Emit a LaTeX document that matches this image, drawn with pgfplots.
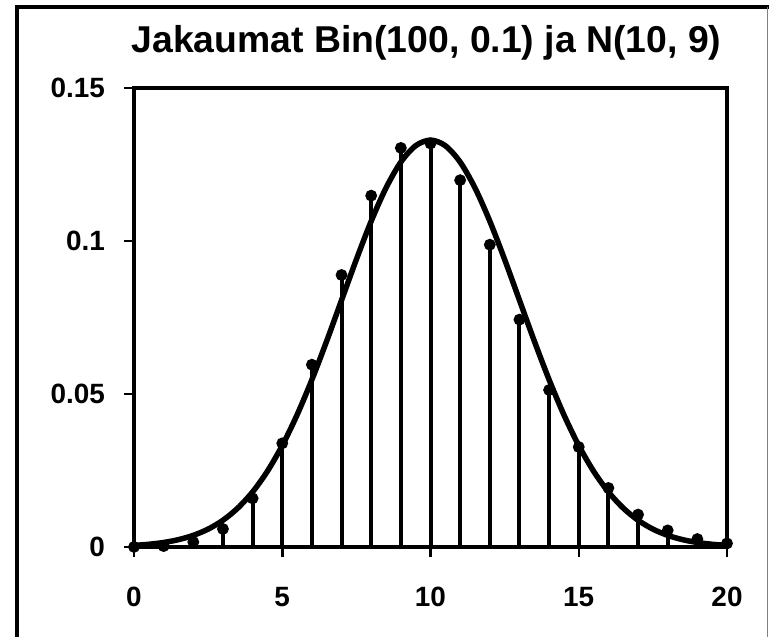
\documentclass[border=0pt]{standalone}
\usepackage{pgfplots}
\pgfplotsset{compat=1.18}
\usepackage{fontspec}
\setmainfont{Liberation Sans}

% Bin(100, 0.1) probabilities, k = 0..20
\pgfplotstableread{
k p
0 0.0000266
1 0.000295
2 0.001623
3 0.005892
4 0.015894
5 0.033875
6 0.059579
7 0.088895
8 0.114823
9 0.130416
10 0.131865
11 0.119878
12 0.098788
13 0.074302
14 0.051304
15 0.032682
16 0.019291
17 0.010591
18 0.005427
19 0.002602
20 0.001171
}\binomdata

% N(10, 9) density, read at half steps
\pgfplotstableread{
x f
0 0.000514
0.5 0.000884
1 0.001477
1.5 0.002402
2 0.003799
2.5 0.005843
3 0.008741
3.5 0.012718
4 0.017997
4.5 0.024772
5 0.033159
5.5 0.043173
6 0.054670
6.5 0.067333
7 0.080657
7.5 0.093971
8 0.106483
8.5 0.117355
9 0.125794
9.5 0.131147
10 0.132981
10.5 0.131147
11 0.125794
11.5 0.117355
12 0.106483
12.5 0.093971
13 0.080657
13.5 0.067333
14 0.054670
14.5 0.043173
15 0.033159
15.5 0.024772
16 0.017997
16.5 0.012718
17 0.008741
17.5 0.005843
18 0.003799
18.5 0.002402
19 0.001477
19.5 0.000884
20 0.000514
}\normdata

\begin{document}
\begin{tikzpicture}
  \useasboundingbox (0,0) rectangle (769bp,637bp);
  % outer chart frame
  \draw[line width=3.5bp] (17bp,0) -- (17bp,630bp) -- (769bp,630bp);
  \draw[gray, line width=1.2bp] (767.5bp,630bp) -- (767.5bp,0);

  \begin{axis}[
      at={(134bp,90bp)}, anchor=south west,
      scale only axis,
      width=593bp, height=459bp,
      xmin=0, xmax=20, ymin=0, ymax=0.15,
      xtick={0,5,10,15,20},
      ytick={0,0.05,0.1,0.15},
      xticklabels={0,5,10,15,20},
      yticklabels={0,0.05,0.1,0.15},
      tick pos=left,
      tick align=outside,
      major tick length=10bp,
      tick style={line width=2.5bp, black},
      axis line style={line width=3.5bp},
      ticklabel style={font=\bfseries\fontsize{28}{32}\selectfont},
      yticklabel style={inner sep=0pt, xshift=-19bp},
      xticklabel style={inner sep=0pt, yshift=-30bp},
      title={Jakaumat Bin(100, 0.1) ja N(10, 9)},
      title style={at={(0.5,1)}, anchor=base, yshift=30bp, xshift=-4bp,
        font=\bfseries\fontsize{37.5}{42}\selectfont},
      clip=false,
    ]
    \addplot[ycomb, line width=4bp, black,
      mark=*, mark size=3.8bp, mark options={solid}]
      table[x=k, y=p] {\binomdata};
    \addplot[smooth, line width=5.5bp, black, no markers]
      table[x=x, y=f] {\normdata};
  \end{axis}
\end{tikzpicture}
\end{document}
